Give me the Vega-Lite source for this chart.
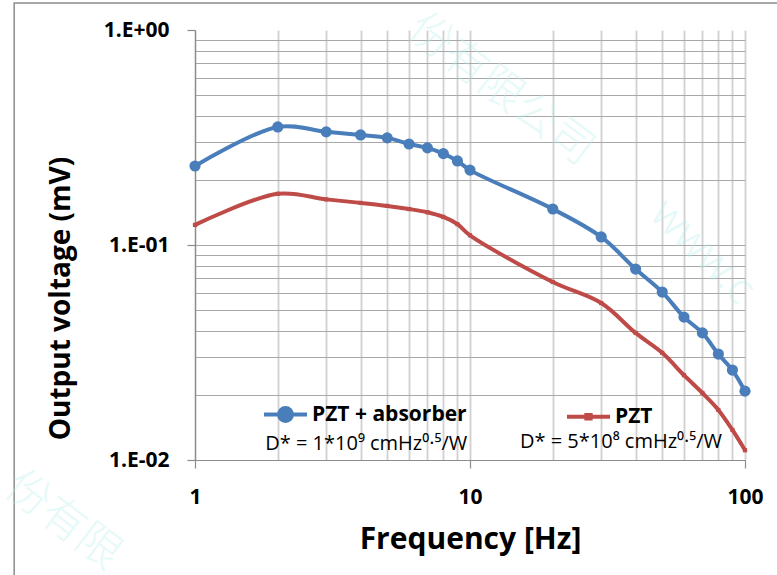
{
  "$schema": "https://vega.github.io/schema/vega-lite/v6.json",
  "width": 550,
  "height": 430,
  "autosize": "none",
  "padding": {"left": 195, "top": 30, "right": 32, "bottom": 115},
  "background": "white",
  "config": {"view": {"stroke": null}, "font": "Open Sans"},
  "datasets": {
    "pts": [
      {"series": "PZT + absorber", "f": 1, "v": 0.233},
      {"series": "PZT + absorber", "f": 2, "v": 0.354},
      {"series": "PZT + absorber", "f": 3, "v": 0.336},
      {"series": "PZT + absorber", "f": 4, "v": 0.325},
      {"series": "PZT + absorber", "f": 5, "v": 0.315},
      {"series": "PZT + absorber", "f": 6, "v": 0.295},
      {"series": "PZT + absorber", "f": 7, "v": 0.283},
      {"series": "PZT + absorber", "f": 8, "v": 0.266},
      {"series": "PZT + absorber", "f": 9, "v": 0.246},
      {"series": "PZT + absorber", "f": 10, "v": 0.223},
      {"series": "PZT + absorber", "f": 20, "v": 0.147},
      {"series": "PZT + absorber", "f": 30, "v": 0.109},
      {"series": "PZT + absorber", "f": 40, "v": 0.0773},
      {"series": "PZT + absorber", "f": 50, "v": 0.0604},
      {"series": "PZT + absorber", "f": 60, "v": 0.0462},
      {"series": "PZT + absorber", "f": 70, "v": 0.039},
      {"series": "PZT + absorber", "f": 80, "v": 0.0311},
      {"series": "PZT + absorber", "f": 90, "v": 0.0262},
      {"series": "PZT + absorber", "f": 100, "v": 0.0209},
      {"series": "PZT", "f": 1, "v": 0.124},
      {"series": "PZT", "f": 2, "v": 0.173},
      {"series": "PZT", "f": 3, "v": 0.163},
      {"series": "PZT", "f": 4, "v": 0.157},
      {"series": "PZT", "f": 5, "v": 0.152},
      {"series": "PZT", "f": 6, "v": 0.147},
      {"series": "PZT", "f": 7, "v": 0.142},
      {"series": "PZT", "f": 8, "v": 0.135},
      {"series": "PZT", "f": 9, "v": 0.125},
      {"series": "PZT", "f": 10, "v": 0.111},
      {"series": "PZT", "f": 20, "v": 0.0673},
      {"series": "PZT", "f": 30, "v": 0.0537},
      {"series": "PZT", "f": 40, "v": 0.039},
      {"series": "PZT", "f": 50, "v": 0.0315},
      {"series": "PZT", "f": 60, "v": 0.0248},
      {"series": "PZT", "f": 70, "v": 0.0205},
      {"series": "PZT", "f": 80, "v": 0.0171},
      {"series": "PZT", "f": 90, "v": 0.0138},
      {"series": "PZT", "f": 100, "v": 0.0111}
    ]
  },
  "layer": [
    {
      "data": {"values": [{}]},
      "mark": {"type": "rect", "fill": null, "filled": false, "stroke": "#8c8c8c", "strokeWidth": 1.5, "clip": false},
      "encoding": {
        "x": {"datum": 0.22, "type": "quantitative", "scale": {"type": "log", "domain": [1, 100]}},
        "x2": {"datum": 1000},
        "y": {"datum": 1.335, "type": "quantitative", "scale": {"type": "log", "domain": [0.01, 1]}},
        "y2": {"datum": 0.0001}
      }
    },
    {
      "data": {"values": [{}]},
      "mark": {"type": "text", "text": "份有限公司", "font": "Noto Sans CJK SC", "fontWeight": 300, "fontSize": 44, "color": "#b8eeee", "opacity": 0.35, "angle": 37, "align": "center", "baseline": "middle", "clip": false},
      "encoding": {
        "x": {"datum": 12.9, "type": "quantitative"},
        "y": {"datum": 0.526, "type": "quantitative"}
      }
    },
    {
      "data": {"values": [{}]},
      "mark": {"type": "text", "text": "www.c", "font": "Noto Sans", "fontWeight": 300, "fontSize": 44, "color": "#b8eeee", "opacity": 0.35, "angle": 45, "align": "left", "baseline": "middle", "clip": false},
      "encoding": {
        "x": {"datum": 48, "type": "quantitative"},
        "y": {"datum": 0.15, "type": "quantitative"}
      }
    },
    {
      "data": {"values": [{}]},
      "mark": {"type": "text", "text": "份有限", "font": "Noto Sans CJK SC", "fontWeight": 300, "fontSize": 44, "color": "#b8eeee", "opacity": 0.35, "angle": 37, "align": "center", "baseline": "middle", "clip": false},
      "encoding": {
        "x": {"datum": 0.33, "type": "quantitative"},
        "y": {"datum": 0.0052, "type": "quantitative"}
      }
    },
    {
      "data": {"name": "pts"},
      "mark": {"type": "line", "interpolate": "catmull-rom", "strokeWidth": 4},
      "encoding": {
        "x": {
          "field": "f", "type": "quantitative",
          "scale": {"type": "log", "domain": [1, 100]},
          "axis": {
            "title": "Frequency [Hz]",
            "values": [1, 2, 3, 4, 5, 6, 7, 8, 9, 10, 20, 30, 40, 50, 60, 70, 80, 90, 100],
            "labelExpr": "indexof([1, 10, 100], datum.value) >= 0 ? format(datum.value, 'd') : ''",
            "labelFont": "Open Sans", "labelFontSize": 21, "labelFontWeight": "bold", "labelColor": "#000000",
            "labelPadding": 18, "labelFlush": false, "labelOverlap": false,
            "tickSize": 8, "tickColor": "#8c8c8c", "tickWidth": 1.2,
            "tickOpacity": {"condition": {"test": "indexof([1, 10, 100], datum.value) >= 0", "value": 1}, "value": 0},
            "domainColor": "#8c8c8c", "domainWidth": 1.2,
            "grid": true, "gridColor": "#d0d0d0", "gridWidth": 1.8,
            "titleFont": "Open Sans", "titleFontSize": 30, "titleFontWeight": "bold", "titleColor": "#000000",
            "titlePadding": 17
          }
        },
        "y": {
          "field": "v", "type": "quantitative",
          "scale": {"type": "log", "domain": [0.01, 1]},
          "axis": {
            "title": "Output voltage (mV)",
            "values": [0.01, 0.02, 0.03, 0.04, 0.05, 0.06, 0.07, 0.08, 0.09, 0.1, 0.2, 0.3, 0.4, 0.5, 0.6, 0.7, 0.8, 0.9, 1],
            "labelExpr": "datum.value == 1 ? '1.E+00' : datum.value == 0.1 ? '1.E-01' : datum.value == 0.01 ? '1.E-02' : ''",
            "labelFont": "Open Sans", "labelFontSize": 21, "labelFontWeight": "bold", "labelColor": "#000000",
            "labelPadding": 18, "labelFlush": false, "labelOverlap": false,
            "tickSize": 8, "tickColor": "#8c8c8c", "tickWidth": 1.2,
            "tickOpacity": {"condition": {"test": "indexof([1, 0.1, 0.01], datum.value) >= 0", "value": 1}, "value": 0},
            "domainColor": "#8c8c8c", "domainWidth": 1.2,
            "grid": true, "gridColor": "#a8a8a8", "gridWidth": 1,
            "gridOpacity": {"condition": {"test": "datum.value == 1", "value": 0}, "value": 1},
            "titleFont": "Open Sans", "titleFontSize": 28, "titleFontWeight": "bold", "titleColor": "#000000",
            "titleY": 268, "titlePadding": 28
          }
        },
        "color": {
          "field": "series", "type": "nominal",
          "scale": {"domain": ["PZT + absorber", "PZT"], "range": ["#4a7ebb", "#be4b48"]},
          "legend": {
            "title": null, "orient": "none", "legendX": 67, "legendY": 361,
            "direction": "horizontal", "columnPadding": 92,
            "labelFont": "Open Sans", "labelFontSize": 21, "labelFontWeight": "bold", "labelColor": "#000000",
            "labelOffset": 3, "symbolSize": 1849, "symbolStrokeWidth": 4,
            "encode": {
              "symbols": {
                "update": {
                  "shape": {"signal": "datum.value === 'PZT' ? 'M-1,0H1M-0.1,-0.08H0.1V0.08H-0.1Z' : 'M-1,0H1M-0.3,0A0.3,0.3 0 1,0 0.3,0A0.3,0.3 0 1,0 -0.3,0Z'"},
                  "fill": {"signal": "datum.value === 'PZT' ? '#be4b48' : '#4a7ebb'"},
                  "strokeWidth": {"value": 4}
                }
              }
            }
          }
        }
      }
    },
    {
      "data": {"name": "pts"},
      "transform": [{"filter": "datum.series == 'PZT + absorber'"}],
      "mark": {"type": "point", "shape": "circle", "filled": true, "size": 125, "opacity": 1},
      "encoding": {
        "x": {"field": "f", "type": "quantitative"},
        "y": {"field": "v", "type": "quantitative"},
        "color": {"field": "series", "type": "nominal"}
      }
    },
    {
      "data": {"name": "pts"},
      "transform": [{"filter": "datum.series == 'PZT'"}],
      "mark": {"type": "point", "shape": "square", "filled": true, "size": 18, "opacity": 1},
      "encoding": {
        "x": {"field": "f", "type": "quantitative"},
        "y": {"field": "v", "type": "quantitative"},
        "color": {"field": "series", "type": "nominal"}
      }
    },
    {
      "data": {"values": [{}]},
      "mark": {"type": "text", "text": "D* = 1*10⁹ cmHz⁰·⁵/W", "font": "Open Sans", "fontSize": 20, "color": "#000000", "align": "left", "baseline": "middle"},
      "encoding": {
        "x": {"datum": 1.8, "type": "quantitative"},
        "y": {"datum": 0.0119, "type": "quantitative"}
      }
    },
    {
      "data": {"values": [{}]},
      "mark": {"type": "text", "text": "D* = 5*10⁸ cmHz⁰·⁵/W", "font": "Open Sans", "fontSize": 20, "color": "#000000", "align": "left", "baseline": "middle"},
      "encoding": {
        "x": {"datum": 15.2, "type": "quantitative"},
        "y": {"datum": 0.0121, "type": "quantitative"}
      }
    }
  ]
}
